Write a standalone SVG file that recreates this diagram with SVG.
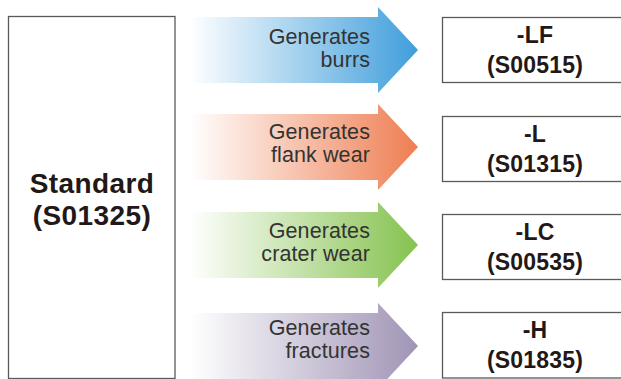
<svg xmlns="http://www.w3.org/2000/svg" width="621" height="379" viewBox="0 0 621 379">
<style>
.box{fill:#fff;stroke:#5a5a5a;stroke-width:1.3}
.bt{font-family:"Liberation Sans",Arial,Helvetica,sans-serif;font-weight:bold;fill:#231815;text-anchor:middle}
.big{font-size:28px;letter-spacing:0.4px}
.sm{font-size:23px;letter-spacing:0.2px}
.at{font-family:"Liberation Sans",Arial,Helvetica,sans-serif;font-size:21.5px;fill:#333;text-anchor:end;letter-spacing:0.1px}
</style>
<defs>
<linearGradient id="gB" gradientUnits="userSpaceOnUse" x1="190" y1="0" x2="418" y2="0"><stop offset="0" stop-color="#fff"/><stop offset="1" stop-color="#3f9edb"/></linearGradient>
<linearGradient id="gO" gradientUnits="userSpaceOnUse" x1="190" y1="0" x2="418" y2="0"><stop offset="0" stop-color="#fff"/><stop offset="1" stop-color="#ee7e52"/></linearGradient>
<linearGradient id="gG" gradientUnits="userSpaceOnUse" x1="190" y1="0" x2="418" y2="0"><stop offset="0" stop-color="#fff"/><stop offset="1" stop-color="#85c24f"/></linearGradient>
<linearGradient id="gP" gradientUnits="userSpaceOnUse" x1="190" y1="0" x2="418" y2="0"><stop offset="0" stop-color="#fff"/><stop offset="1" stop-color="#a094b5"/></linearGradient>
</defs>
<rect width="621" height="379" fill="#fff"/>
<g id="standard">
<rect class="box" x="8.5" y="16.5" width="166.5" height="362"/>
<text class="bt big" x="92" y="193">Standard</text>
<text class="bt big" x="92" y="225">(S01325)</text>
</g>
<g id="connectors">
<g id="arrow-burrs">
<path d="M190 17 H378 V7 L418 50 L378 93 V83 H190 Z" fill="url(#gB)"/>
<text class="at" x="370" y="44">Generates</text>
<text class="at" x="370" y="67">burrs</text>
</g>
<g id="arrow-flank">
<path d="M190 114 H378 V104 L418 147 L378 190 V180 H190 Z" fill="url(#gO)"/>
<text class="at" x="370" y="139">Generates</text>
<text class="at" x="370" y="162">flank wear</text>
</g>
<g id="arrow-crater">
<path d="M190 212 H378 V202 L418 245 L378 288 V278 H190 Z" fill="url(#gG)"/>
<text class="at" x="370" y="238">Generates</text>
<text class="at" x="370" y="261">crater wear</text>
</g>
<g id="arrow-fractures">
<path d="M190 313 H378 V303 L418 346 L378 389 V379 H190 Z" fill="url(#gP)"/>
<text class="at" x="370" y="335">Generates</text>
<text class="at" x="370" y="358">fractures</text>
</g>
</g>
<g id="lf">
<rect class="box" x="442.5" y="17.5" width="185" height="65"/>
<text class="bt sm" x="535" y="43">-LF</text>
<text class="bt sm" x="535" y="73">(S00515)</text>
</g>
<g id="l">
<rect class="box" x="442.5" y="116.5" width="185" height="65"/>
<text class="bt sm" x="535" y="142">-L</text>
<text class="bt sm" x="535" y="172">(S01315)</text>
</g>
<g id="lc">
<rect class="box" x="442.5" y="214.5" width="185" height="65"/>
<text class="bt sm" x="535" y="240">-LC</text>
<text class="bt sm" x="535" y="270">(S00535)</text>
</g>
<g id="h">
<rect class="box" x="442.5" y="312.5" width="185" height="65.5"/>
<text class="bt sm" x="535" y="338">-H</text>
<text class="bt sm" x="535" y="368">(S01835)</text>
</g>
</svg>
